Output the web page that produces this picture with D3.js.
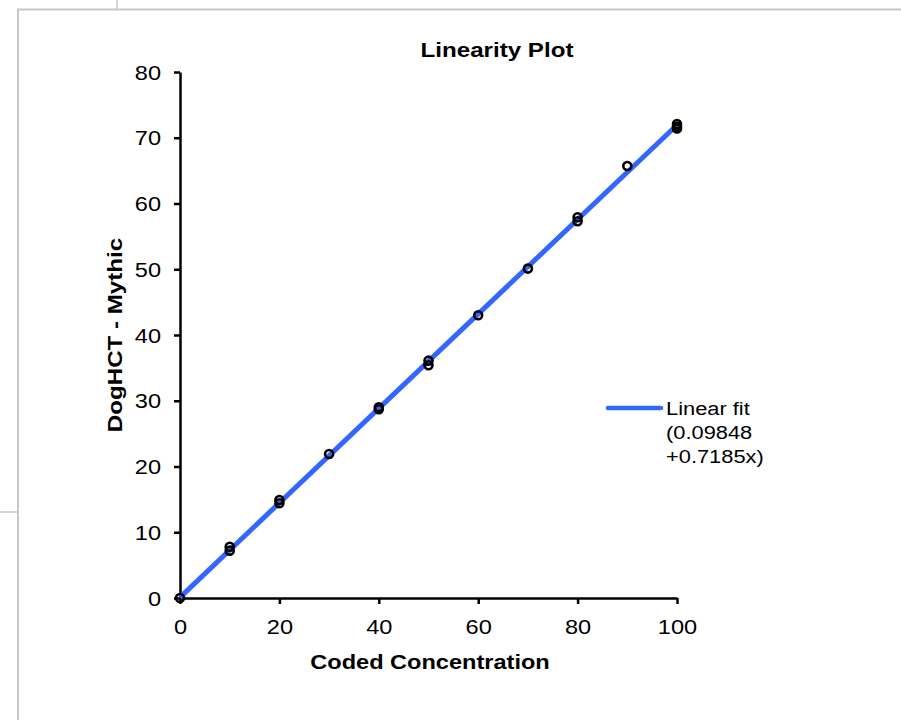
<!DOCTYPE html>
<html>
<head>
<meta charset="utf-8">
<script src="https://cdn.jsdelivr.net/npm/d3@7"></script>
<style>
body { margin: 0; background: #fff; }
text { font-family: "Liberation Sans", Arial, sans-serif; }
</style>
</head>
<body>
<div id="canvas"></div>
<script>
var w = 901;
var h = 720;

// measured points (coded concentration, DogHCT)
var xValues = [0, 10, 10, 20, 20, 30, 40, 40, 50, 50, 60, 70, 80, 80, 90, 100, 100, 100];
var yValues = [0, 7.8, 7.2, 14.9, 14.4, 21.9, 28.7, 29.0, 36.1, 35.4, 43.0, 50.1, 57.3, 57.9, 65.7, 72.1, 71.4, 71.7];

// fit
var intercept = 0.09848;
var slope = 0.7185;
var xTicks = [0, 20, 40, 60, 80, 100];
var yTicks = [0, 10, 20, 30, 40, 50, 60, 70, 80];
var legendLines = ["Linear fit", "(0.09848", "+0.7185x)"];

// text in the original is a bit wider than plain Arial
var stretch = 1.15;

var svg = d3.select("#canvas").append("svg")
			.attr("width", w)
			.attr("height", h)
			.style("background-color", "white");

// frame lines of the page around the chart
var grey = "#c8c8c8";
svg.append("line").attr("x1", 17).attr("y1", 9.5).attr("x2", w).attr("y2", 9.5)
	.attr("stroke", grey).attr("stroke-width", 2);
svg.append("line").attr("x1", 117).attr("y1", 0).attr("x2", 117).attr("y2", 9)
	.attr("stroke", grey).attr("stroke-width", 1.5);
svg.append("line").attr("x1", 18).attr("y1", 9).attr("x2", 18).attr("y2", h)
	.attr("stroke", grey).attr("stroke-width", 2);
svg.append("line").attr("x1", 0).attr("y1", 512).attr("x2", 17).attr("y2", 512)
	.attr("stroke", grey).attr("stroke-width", 1.5);

var xScale = d3.scaleLinear().domain([0, 100]).range([180, 677]);
var yScale = d3.scaleLinear().domain([0, 80]).range([598, 72]);

var xAxis = d3.axisBottom(xScale).tickValues(xTicks).tickSize(6).tickSizeOuter(0);
var yAxis = d3.axisLeft(yScale).tickValues(yTicks).tickSize(6).tickSizeOuter(0);

var gx = svg.append("g").attr("transform", "translate(0,598)").call(xAxis);
var gy = svg.append("g").attr("transform", "translate(180,0)").call(yAxis);

[gx, gy].forEach(function(g){
	g.select(".domain").attr("stroke", "#000").attr("stroke-width", 2.5);
	g.selectAll(".tick line").attr("stroke", "#000").attr("stroke-width", 2.5);
	g.selectAll(".tick text").attr("fill", "#000")
		.style("font-family", "'Liberation Sans', Arial, sans-serif")
		.style("font-size", "20.5px");
});
gx.selectAll(".tick text")
	.attr("x", 0).attr("y", 0).attr("dy", null)
	.attr("transform", "translate(0,36) scale(" + stretch + ",1)");
gy.selectAll(".tick text")
	.attr("x", 0).attr("dy", "0.35em")
	.attr("transform", "translate(-19,0) scale(" + stretch + ",1)");

// fit line
svg.append("line")
	.attr("x1", xScale(0))
	.attr("y1", yScale(intercept))
	.attr("x2", xScale(100))
	.attr("y2", yScale(intercept + slope * 100))
	.attr("stroke", "#3366ff")
	.attr("stroke-width", 5);

// points
svg.selectAll("circle.pt")
	.data(xValues)
	.enter()
	.append("circle")
	.attr("class", "pt")
	.attr("cx", function(d){ return xScale(d); })
	.attr("cy", function(d, i){ return yScale(yValues[i]); })
	.attr("r", 4)
	.attr("fill", "none")
	.attr("stroke", "#000")
	.attr("stroke-width", 2.6);

// titles
svg.append("text")
	.attr("transform", "translate(497,57) scale(" + stretch + ",1)")
	.attr("text-anchor", "middle")
	.style("font-weight", "bold").style("font-size", "21px")
	.text("Linearity Plot");

svg.append("text")
	.attr("transform", "translate(430,669) scale(" + stretch + ",1)")
	.attr("text-anchor", "middle")
	.style("font-weight", "bold").style("font-size", "20.5px")
	.text("Coded Concentration");

svg.append("text")
	.attr("transform", "translate(122,335) rotate(-90) scale(" + stretch + ",1)")
	.attr("text-anchor", "middle")
	.style("font-weight", "bold").style("font-size", "21px")
	.text("DogHCT - Mythic");

// legend
svg.append("line")
	.attr("x1", 608).attr("y1", 408).attr("x2", 661).attr("y2", 408)
	.attr("stroke", "#3366ff").attr("stroke-width", 4.5)
	.attr("stroke-linecap", "round");

svg.selectAll("text.leg")
	.data(legendLines)
	.enter()
	.append("text")
	.attr("class", "leg")
	.attr("transform", function(d, i){
		return "translate(666," + (415 + i * 24) + ") scale(" + stretch + ",1)";
	})
	.style("font-size", "19px")
	.text(function(d){ return d; });
</script>
</body>
</html>
